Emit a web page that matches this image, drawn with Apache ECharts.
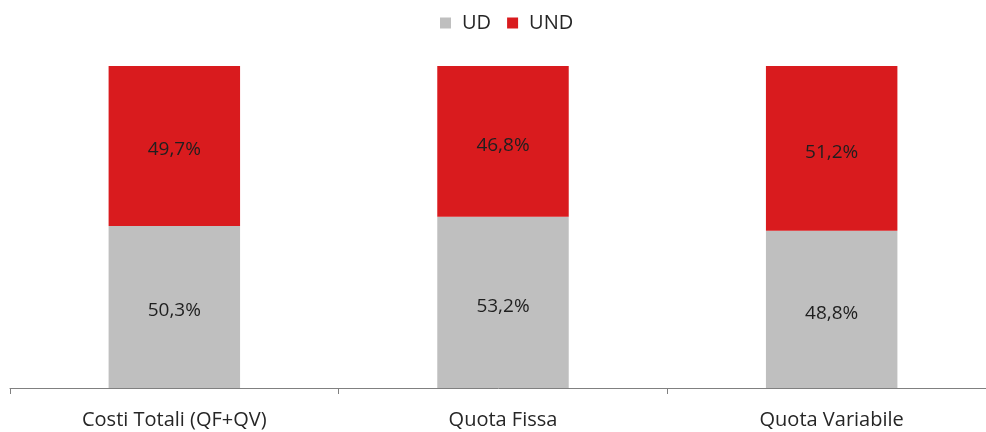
<!DOCTYPE html>
<html>
<head>
<meta charset="utf-8">
<script src="https://cdn.jsdelivr.net/npm/echarts@6/dist/echarts.min.js"></script>
<style>
  html, body { margin: 0; padding: 0; background: #fff; }
  #chart { width: 986px; height: 432px; }
</style>
</head>
<body>
<div id="chart"></div>
<script>
// dati
var categorie = ["Costi Totali (QF+QV)", "Quota Fissa", "Quota Variabile"];
var ud = [50.3, 53.2, 48.8];
var und = [49.7, 46.8, 51.2];

window.onload = function () {
    var myChart = echarts.init(document.getElementById("chart"));

    function etichetta(p) {
        return p.value.toFixed(1).replace(".", ",") + "%";
    }

    var option = {
        animation: false,
        textStyle: { fontFamily: "Open Sans" },
        legend: {
            top: 8,
            left: 435,
            itemWidth: 11,
            itemHeight: 11,
            itemGap: 16,
            icon: "rect",
            textStyle: { color: "#262626", fontSize: 20, padding: [0, 0, 0, 6] },
            data: ["UD", "UND"]
        },
        grid: {
            left: 10,
            top: 66,
            width: 986,
            bottom: 44,
            outerBoundsMode: "none"
        },
        xAxis: {
            type: "category",
            data: categorie,
            axisLine: { lineStyle: { color: "#808080", width: 1 } },
            axisTick: { show: true, length: 6, lineStyle: { color: "#808080" } },
            axisLabel: { color: "#262626", fontSize: 20, margin: 22 }
        },
        yAxis: {
            type: "value",
            min: 0,
            max: 100,
            show: false
        },
        series: [
            {
                name: "UD",
                type: "bar",
                stack: "tot",
                barWidth: "40%",
                itemStyle: { color: "#BFBFBF" },
                label: { show: true, formatter: etichetta, color: "#1f1f1f", fontSize: 19, offset: [0, 4] },
                data: ud
            },
            {
                name: "UND",
                type: "bar",
                stack: "tot",
                barWidth: "40%",
                itemStyle: { color: "#D91B1E" },
                label: { show: true, formatter: etichetta, color: "#1f1f1f", fontSize: 19, offset: [0, 4] },
                data: und
            }
        ]
    };

    myChart.setOption(option);
};
</script>
</body>
</html>
